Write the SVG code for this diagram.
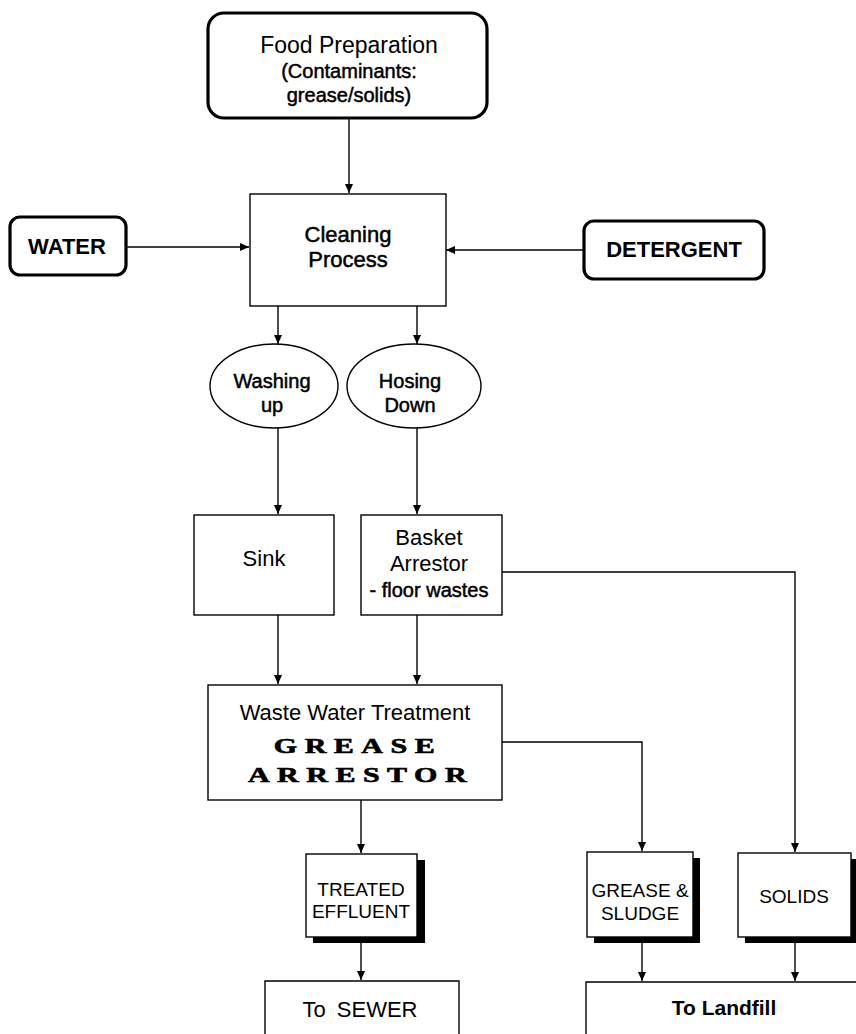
<svg xmlns="http://www.w3.org/2000/svg" width="856" height="1034" viewBox="0 0 856 1034">
<defs>
<marker id="ah" markerUnits="userSpaceOnUse" markerWidth="9" markerHeight="8" refX="9" refY="4" orient="auto"><path d="M0,0 L9,4 L0,8 z" fill="#000"/></marker>
<style>
.rb{fill:#fff;stroke:#000;stroke-width:3.2}
.bx{fill:#fff;stroke:#000;stroke-width:1.4}
.sh{fill:#000}
.t{font-family:"Liberation Sans",Arial,sans-serif;fill:#000;text-anchor:middle}
.s{stroke:#000;stroke-width:0.5}
.b{font-weight:bold}
.g{font-family:"Liberation Serif","Times New Roman",serif;font-weight:bold;font-size:20px;letter-spacing:5px;text-anchor:middle;fill:#000;stroke:#000;stroke-width:0.6}
.c{fill:none;stroke:#000;stroke-width:1.4}
</style>
</defs>
<rect width="856" height="1034" fill="#fff"/>
<g id="connectors">
<line class="c" x1="349" y1="118" x2="349" y2="193" marker-end="url(#ah)"/>
<line class="c" x1="126" y1="247" x2="249" y2="247" marker-end="url(#ah)"/>
<line class="c" x1="584" y1="250" x2="446" y2="250" marker-end="url(#ah)"/>
<line class="c" x1="278" y1="306" x2="278" y2="344" marker-end="url(#ah)"/>
<line class="c" x1="417" y1="306" x2="417" y2="344" marker-end="url(#ah)"/>
<line class="c" x1="278" y1="428" x2="278" y2="514" marker-end="url(#ah)"/>
<line class="c" x1="417" y1="428" x2="417" y2="514" marker-end="url(#ah)"/>
<line class="c" x1="278" y1="615" x2="278" y2="684" marker-end="url(#ah)"/>
<line class="c" x1="417" y1="615" x2="417" y2="684" marker-end="url(#ah)"/>
<polyline class="c" points="502,572 795,572 795,852" marker-end="url(#ah)"/>
<polyline class="c" points="502,742 642,742 642,851" marker-end="url(#ah)"/>
<line class="c" x1="361" y1="800" x2="361" y2="853" marker-end="url(#ah)"/>
<line class="c" x1="361" y1="937" x2="361" y2="980" marker-end="url(#ah)"/>
<line class="c" x1="642" y1="937" x2="642" y2="981" marker-end="url(#ah)"/>
<line class="c" x1="795" y1="937" x2="795" y2="981" marker-end="url(#ah)"/>
</g>
<g id="food">
<rect class="rb" x="208" y="13" width="279" height="105" rx="16"/>
<text class="t" x="349" y="53" font-size="23">Food Preparation</text>
<text class="t s" x="349" y="78" font-size="20">(Contaminants:</text>
<text class="t s" x="349" y="102" font-size="20">grease/solids)</text>
</g>
<g id="water">
<rect class="rb" x="10" y="217" width="116" height="58" rx="10"/>
<text class="t b" x="67" y="254" font-size="22">WATER</text>
</g>
<g id="detergent">
<rect class="rb" x="584" y="221" width="180" height="58" rx="10"/>
<text class="t b" x="674" y="257" font-size="22">DETERGENT</text>
</g>
<g id="cleaning">
<rect class="bx" x="250" y="194" width="196" height="112"/>
<text class="t s" x="348" y="242" font-size="22">Cleaning</text>
<text class="t s" x="348" y="267" font-size="22">Process</text>
</g>
<g id="washing">
<ellipse class="bx" cx="274" cy="386" rx="64" ry="42"/>
<text class="t s" x="272" y="388" font-size="20">Washing</text>
<text class="t s" x="272" y="412" font-size="20">up</text>
</g>
<g id="hosing">
<ellipse class="bx" cx="414" cy="386" rx="67" ry="42"/>
<text class="t s" x="410" y="388" font-size="20">Hosing</text>
<text class="t s" x="410" y="412" font-size="20">Down</text>
</g>
<g id="sink">
<rect class="bx" x="194" y="515" width="140" height="100"/>
<text class="t" x="264" y="566" font-size="22">Sink</text>
</g>
<g id="basket">
<rect class="bx" x="361" y="515" width="141" height="100"/>
<text class="t" x="429" y="545" font-size="22">Basket</text>
<text class="t" x="429" y="571" font-size="22">Arrestor</text>
<text class="t s" x="429" y="597" font-size="20">- floor wastes</text>
</g>
<g id="treatment">
<rect class="bx" x="208" y="685" width="294" height="115"/>
<text class="t" x="355" y="720" font-size="22">Waste Water Treatment</text>
<text class="g" transform="translate(358,753) scale(1.5,1)" x="0" y="0">GREASE</text>
<text class="g" transform="translate(361,782) scale(1.5,1)" x="0" y="0">ARRESTOR</text>
</g>
<g id="effluent">
<rect class="sh" x="313" y="860" width="112" height="83"/>
<rect class="bx" x="306" y="854" width="111" height="83"/>
<text class="t" x="361" y="896" font-size="19">TREATED</text>
<text class="t" x="361" y="918" font-size="19">EFFLUENT</text>
</g>
<g id="sludge">
<rect class="sh" x="594" y="858" width="106" height="85"/>
<rect class="bx" x="587" y="852" width="106" height="85"/>
<text class="t" x="640" y="897" font-size="19">GREASE &amp;</text>
<text class="t" x="640" y="920" font-size="19">SLUDGE</text>
</g>
<g id="solids">
<rect class="sh" x="745" y="859" width="113" height="84"/>
<rect class="bx" x="738" y="853" width="113" height="84"/>
<text class="t" x="794" y="903" font-size="19">SOLIDS</text>
</g>
<g id="sewer">
<polyline class="c" points="265,1040 265,981 459,981 459,1040"/>
<text class="t" x="360" y="1017" font-size="22" word-spacing="5">To SEWER</text>
</g>
<g id="landfill">
<polyline class="c" points="586,1040 586,982 860,982"/>
<text class="t b" x="724" y="1015" font-size="21">To Landfill</text>
</g>
</svg>
